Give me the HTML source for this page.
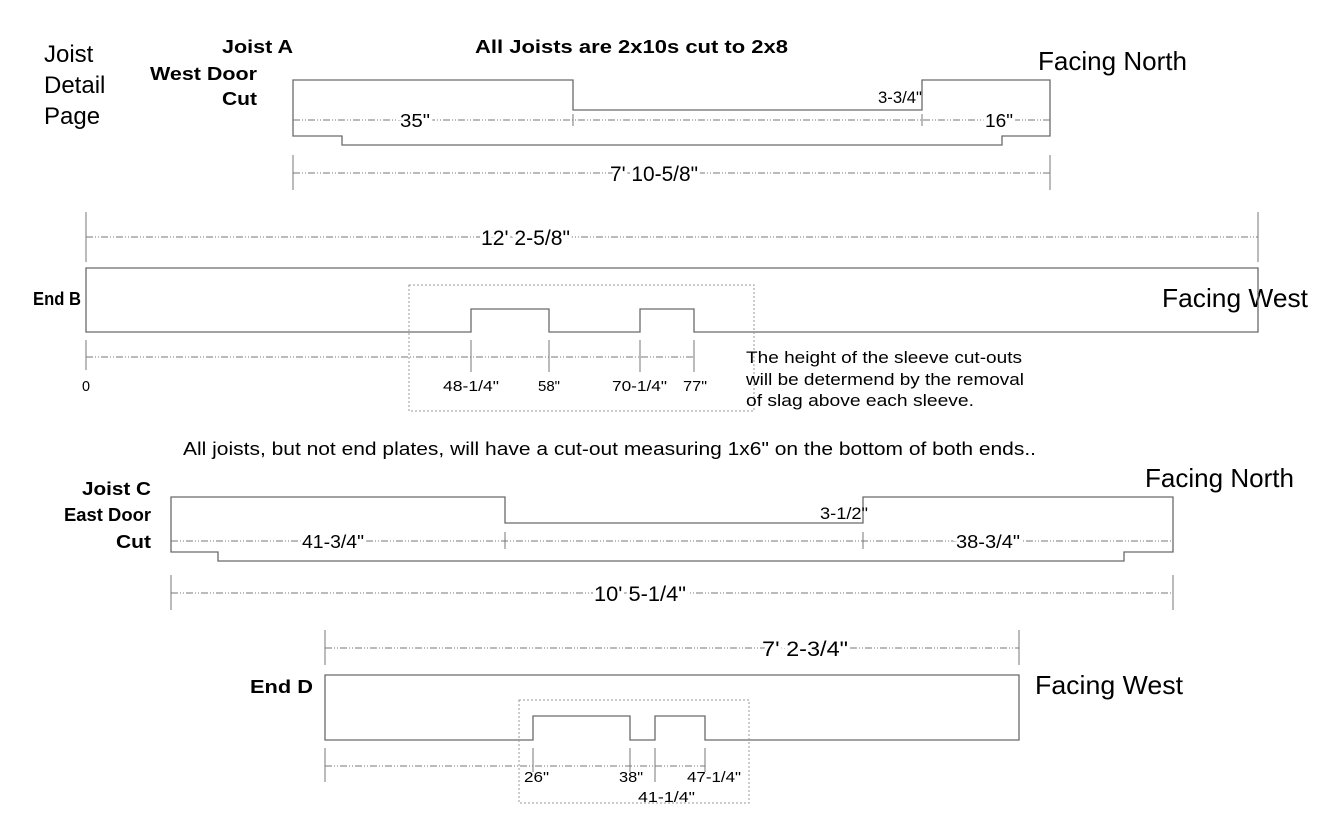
<!DOCTYPE html>
<html><head><meta charset="utf-8"><style>
html,body{margin:0;padding:0;background:#fff;}
svg{display:block;}
text{font-family:"Liberation Sans",Arial,sans-serif;fill:#000;}
.o{fill:none;stroke:#6a6a6a;stroke-width:1.3;}
.d{fill:none;stroke:#777;stroke-width:1;stroke-dasharray:7,2,1,2,1,2;}
.t{stroke:#777;stroke-width:1;}
.b{fill:none;stroke:#999;stroke-width:1;stroke-dasharray:2,2;}
.lbl{paint-order:stroke;stroke:#fff;stroke-width:6px;}
</style></head><body>
<svg width="1344" height="816" viewBox="0 0 1344 816" xmlns="http://www.w3.org/2000/svg">
<!-- titles -->
<text x="44" y="62" font-size="24">Joist</text>
<text x="44" y="93" font-size="24">Detail</text>
<text x="44" y="124" font-size="24">Page</text>
<text x="222" y="53" font-size="18" font-weight="bold" textLength="71" lengthAdjust="spacingAndGlyphs">Joist A</text>
<text x="150" y="80" font-size="18" font-weight="bold" textLength="107" lengthAdjust="spacingAndGlyphs">West Door</text>
<text x="222" y="105" font-size="18" font-weight="bold" textLength="35" lengthAdjust="spacingAndGlyphs">Cut</text>
<text x="475" y="53" font-size="18" font-weight="bold" textLength="313" lengthAdjust="spacingAndGlyphs">All Joists are 2x10s cut to 2x8</text>
<text x="1038" y="70" font-size="26" textLength="149" lengthAdjust="spacingAndGlyphs">Facing North</text>

<!-- Joist A -->
<path class="o" d="M293,80 H573 V110 H922 V80 H1050 V136 H1002 V145 H342 V136 H293 Z"/>
<line class="d" x1="293" y1="120" x2="1050" y2="120"/>
<line class="t" x1="573" y1="114" x2="573" y2="126"/>
<line class="t" x1="922" y1="114" x2="922" y2="126"/>
<text class="lbl" x="400" y="127" font-size="18" textLength="30" lengthAdjust="spacingAndGlyphs">35"</text>
<text class="lbl" x="985" y="127" font-size="18" textLength="28" lengthAdjust="spacingAndGlyphs">16"</text>
<text x="878" y="103" font-size="17" textLength="44" lengthAdjust="spacingAndGlyphs">3-3/4"</text>
<line class="t" x1="293" y1="155" x2="293" y2="190"/>
<line class="t" x1="1050" y1="155" x2="1050" y2="190"/>
<line class="d" x1="293" y1="173" x2="1050" y2="173"/>
<text class="lbl" x="610" y="181" font-size="21" textLength="88" lengthAdjust="spacingAndGlyphs">7' 10-5/8"</text>

<!-- 12' -->
<line class="t" x1="86" y1="212" x2="86" y2="262"/>
<line class="t" x1="1258" y1="212" x2="1258" y2="262"/>
<line class="d" x1="86" y1="237" x2="1258" y2="237"/>
<text class="lbl" x="481" y="245" font-size="21" textLength="89" lengthAdjust="spacingAndGlyphs">12' 2-5/8"</text>

<!-- End B -->
<text x="33" y="305" font-size="18" font-weight="bold" textLength="48" lengthAdjust="spacingAndGlyphs">End B</text>
<text x="1162" y="307" font-size="26" textLength="146" lengthAdjust="spacingAndGlyphs">Facing West</text>
<path class="o" d="M86,268 H1258 V332 H694 V309 H640 V332 H549 V309 H471 V332 H86 Z"/>
<rect class="b" x="409" y="285" width="345" height="126"/>
<line class="d" x1="86" y1="357" x2="694" y2="357"/>
<line class="t" x1="86" y1="340" x2="86" y2="370"/>
<line class="t" x1="471" y1="340" x2="471" y2="372"/>
<line class="t" x1="549" y1="340" x2="549" y2="372"/>
<line class="t" x1="640" y1="340" x2="640" y2="372"/>
<line class="t" x1="694" y1="340" x2="694" y2="372"/>
<text x="82" y="391" font-size="15" textLength="8" lengthAdjust="spacingAndGlyphs">0</text>
<text x="443" y="391" font-size="15" textLength="56" lengthAdjust="spacingAndGlyphs">48-1/4"</text>
<text x="538" y="391" font-size="15" textLength="22" lengthAdjust="spacingAndGlyphs">58"</text>
<text x="612" y="391" font-size="15" textLength="55" lengthAdjust="spacingAndGlyphs">70-1/4"</text>
<text x="683" y="391" font-size="15" textLength="24" lengthAdjust="spacingAndGlyphs">77"</text>
<text x="746" y="363" font-size="17" textLength="276" lengthAdjust="spacingAndGlyphs">The height of the sleeve cut-outs</text>
<text x="746" y="385" font-size="17" textLength="278" lengthAdjust="spacingAndGlyphs">will be determend by the removal</text>
<text x="746" y="406" font-size="17" textLength="228" lengthAdjust="spacingAndGlyphs">of slag above each sleeve.</text>

<text x="183" y="455" font-size="18" textLength="853" lengthAdjust="spacingAndGlyphs">All joists, but not end plates, will have a cut-out measuring 1x6" on the bottom of both ends..</text>

<!-- Joist C -->
<text x="1145" y="487" font-size="26" textLength="149" lengthAdjust="spacingAndGlyphs">Facing North</text>
<text x="82" y="495" font-size="18" font-weight="bold" textLength="69" lengthAdjust="spacingAndGlyphs">Joist C</text>
<text x="64" y="521" font-size="18" font-weight="bold" textLength="87" lengthAdjust="spacingAndGlyphs">East Door</text>
<text x="116" y="548" font-size="18" font-weight="bold" textLength="35" lengthAdjust="spacingAndGlyphs">Cut</text>
<path class="o" d="M171,497 H505 V523 H863 V497 H1173 V552 H1124 V561 H218 V552 H171 Z"/>
<line class="d" x1="171" y1="541" x2="1173" y2="541"/>
<line class="t" x1="505" y1="532" x2="505" y2="549"/>
<line class="t" x1="863" y1="532" x2="863" y2="549"/>
<text class="lbl" x="302" y="548" font-size="18" textLength="62" lengthAdjust="spacingAndGlyphs">41-3/4"</text>
<text class="lbl" x="956" y="548" font-size="18" textLength="64" lengthAdjust="spacingAndGlyphs">38-3/4"</text>
<text x="820" y="519" font-size="17" textLength="48" lengthAdjust="spacingAndGlyphs">3-1/2"</text>
<line class="t" x1="171" y1="575" x2="171" y2="610"/>
<line class="t" x1="1173" y1="575" x2="1173" y2="610"/>
<line class="d" x1="171" y1="593" x2="1173" y2="593"/>
<text class="lbl" x="594" y="601" font-size="21" textLength="92" lengthAdjust="spacingAndGlyphs">10' 5-1/4"</text>

<!-- 7' 2-3/4 -->
<line class="t" x1="325" y1="630" x2="325" y2="665"/>
<line class="t" x1="1019" y1="630" x2="1019" y2="665"/>
<line class="d" x1="325" y1="648" x2="1019" y2="648"/>
<text class="lbl" x="762" y="656" font-size="21" textLength="86" lengthAdjust="spacingAndGlyphs">7' 2-3/4"</text>

<!-- End D -->
<text x="250" y="693" font-size="18" font-weight="bold" textLength="63" lengthAdjust="spacingAndGlyphs">End D</text>
<text x="1035" y="694" font-size="26" textLength="148" lengthAdjust="spacingAndGlyphs">Facing West</text>
<path class="o" d="M325,675 H1019 V740 H705 V716 H655 V740 H630 V716 H533 V740 H325 Z"/>
<rect class="b" x="519" y="700" width="230" height="103"/>
<line class="d" x1="325" y1="766" x2="705" y2="766"/>
<line class="t" x1="325" y1="748" x2="325" y2="782"/>
<line class="t" x1="533" y1="748" x2="533" y2="772"/>
<line class="t" x1="630" y1="748" x2="630" y2="772"/>
<line class="t" x1="655" y1="748" x2="655" y2="782"/>
<line class="t" x1="705" y1="748" x2="705" y2="772"/>
<text x="524" y="782" font-size="15" textLength="25" lengthAdjust="spacingAndGlyphs">26"</text>
<text x="619" y="782" font-size="15" textLength="24" lengthAdjust="spacingAndGlyphs">38"</text>
<text x="638" y="802" font-size="15" textLength="57" lengthAdjust="spacingAndGlyphs">41-1/4"</text>
<text x="687" y="782" font-size="15" textLength="54" lengthAdjust="spacingAndGlyphs">47-1/4"</text>
</svg>
</body></html>
